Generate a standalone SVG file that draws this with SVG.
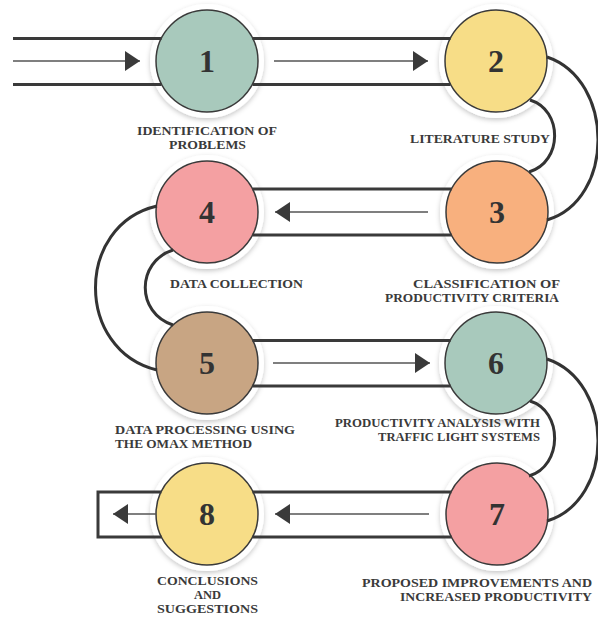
<svg xmlns="http://www.w3.org/2000/svg" width="598" height="620" viewBox="0 0 598 620">
<defs>
<filter id="sh" x="-30%" y="-30%" width="160%" height="160%">
<feDropShadow dx="0" dy="2" stdDeviation="2.5" flood-color="#000" flood-opacity="0.22"/>
</filter>
<marker id="ah" markerUnits="userSpaceOnUse" markerWidth="15" markerHeight="20" refX="15" refY="10" orient="auto">
<path d="M0,0 L15,10 L0,20 Z" fill="#3a3a3a"/>
</marker>
</defs>
<style>
.halo{fill:#ffffff;filter:url(#sh);}
.c{stroke:#3a3a3a;stroke-width:1.5;}
.num{font-family:"Liberation Serif","Times New Roman",serif;font-weight:bold;font-size:32px;fill:#333;text-anchor:middle;}
.lbl{font-family:"Liberation Serif","Times New Roman",serif;font-weight:bold;font-size:12.5px;fill:#3a3a3a;}
.band{stroke:#3a3a3a;stroke-width:3;fill:none;}
.arr{stroke:#555;stroke-width:1.5;fill:none;}
.curve{stroke:#333;stroke-width:3;fill:none;}
</style>
<rect width="598" height="620" fill="#ffffff"/>

<g id="node1">
<circle class="halo" cx="207" cy="61" r="57"/>
<circle class="c" cx="207" cy="61" r="51" fill="#a8c9bc"/>
<text class="num" x="207" y="72">1</text>
<text class="lbl" x="137" y="135" textLength="140" lengthAdjust="spacingAndGlyphs">IDENTIFICATION OF</text>
<text class="lbl" x="169" y="149" textLength="77" lengthAdjust="spacingAndGlyphs">PROBLEMS</text>
</g>
<g id="node2">
<circle class="halo" cx="496" cy="61" r="57"/>
<circle class="c" cx="496" cy="61" r="51" fill="#f7dd87"/>
<text class="num" x="496" y="72">2</text>
<text class="lbl" x="410" y="143" textLength="140" lengthAdjust="spacingAndGlyphs">LITERATURE STUDY</text>
</g>
<g id="node3">
<circle class="halo" cx="497" cy="212" r="57"/>
<circle class="c" cx="497" cy="212" r="51" fill="#f8b07e"/>
<text class="num" x="497" y="223">3</text>
<text class="lbl" x="413" y="288" textLength="147" lengthAdjust="spacingAndGlyphs">CLASSIFICATION OF</text>
<text class="lbl" x="385" y="302" textLength="174" lengthAdjust="spacingAndGlyphs">PRODUCTIVITY CRITERIA</text>
</g>
<g id="node4">
<circle class="halo" cx="207" cy="212" r="57"/>
<circle class="c" cx="207" cy="212" r="51" fill="#f4a0a2"/>
<text class="num" x="207" y="223">4</text>
<text class="lbl" x="170" y="288" textLength="133" lengthAdjust="spacingAndGlyphs">DATA COLLECTION</text>
</g>
<g id="node5">
<circle class="halo" cx="207" cy="363" r="57"/>
<circle class="c" cx="207" cy="363" r="51" fill="#c8a583"/>
<text class="num" x="207" y="374">5</text>
<text class="lbl" x="115" y="434" textLength="180" lengthAdjust="spacingAndGlyphs">DATA PROCESSING USING</text>
<text class="lbl" x="115" y="448" textLength="137" lengthAdjust="spacingAndGlyphs">THE OMAX METHOD</text>
</g>
<g id="node6">
<circle class="halo" cx="496" cy="363" r="57"/>
<circle class="c" cx="496" cy="363" r="51" fill="#a8c9bc"/>
<text class="num" x="496" y="374">6</text>
<text class="lbl" x="335" y="427" textLength="205" lengthAdjust="spacingAndGlyphs">PRODUCTIVITY ANALYSIS WITH</text>
<text class="lbl" x="378" y="441" textLength="162" lengthAdjust="spacingAndGlyphs">TRAFFIC LIGHT SYSTEMS</text>
</g>
<g id="node7">
<circle class="halo" cx="497" cy="514" r="57"/>
<circle class="c" cx="497" cy="514" r="51" fill="#f4a0a2"/>
<text class="num" x="497" y="525">7</text>
<text class="lbl" x="362" y="586.5" textLength="230" lengthAdjust="spacingAndGlyphs">PROPOSED IMPROVEMENTS AND</text>
<text class="lbl" x="400" y="600.5" textLength="192" lengthAdjust="spacingAndGlyphs">INCREASED PRODUCTIVITY</text>
</g>
<g id="node8">
<circle class="halo" cx="207" cy="514" r="57"/>
<circle class="c" cx="207" cy="514" r="51" fill="#f7dd87"/>
<text class="num" x="207" y="525">8</text>
<text class="lbl" x="157" y="585" textLength="101" lengthAdjust="spacingAndGlyphs">CONCLUSIONS</text>
<text class="lbl" x="194" y="599">AND</text>
<text class="lbl" x="157" y="613" textLength="101" lengthAdjust="spacingAndGlyphs">SUGGESTIONS</text>
</g>

<g id="connectors">
<path class="band" d="M13,38.5 H161.5 M13,84.5 H161.5 M252.5,38.5 H450.5 M252.5,84.5 H450.5"/>
<path class="arr" d="M13,61 H140" marker-end="url(#ah)"/>
<path class="arr" d="M274,61 H428" marker-end="url(#ah)"/>
<path class="curve" d="M547,57 C615,80 615,200 547,220"/>
<path class="curve" d="M530,100 C563,110 563,162 529,172"/>
<path class="band" d="M252.5,189 H451.5 M252.5,235 H451.5"/>
<path class="arr" d="M428,212 H275" marker-end="url(#ah)"/>
<path class="curve" d="M157,206 C75,225 75,350 157,370"/>
<path class="curve" d="M173,250 C136,262 136,313 173,325"/>
<path class="band" d="M252.5,340.5 H450.5 M252.5,386 H450.5"/>
<path class="arr" d="M273,363 H430" marker-end="url(#ah)"/>
<path class="curve" d="M547,359 C615,382 615,500 547,521"/>
<path class="curve" d="M530,401 C563,411 563,466 529,476"/>
<path class="band" d="M252.5,492 H451.5 M252.5,537 H451.5"/>
<path class="band" d="M161.5,492 H98 V537 H161.5"/>
<path class="arr" d="M429,514 H275" marker-end="url(#ah)"/>
<path class="arr" d="M156,514 H113" marker-end="url(#ah)"/>
</g>
</svg>
